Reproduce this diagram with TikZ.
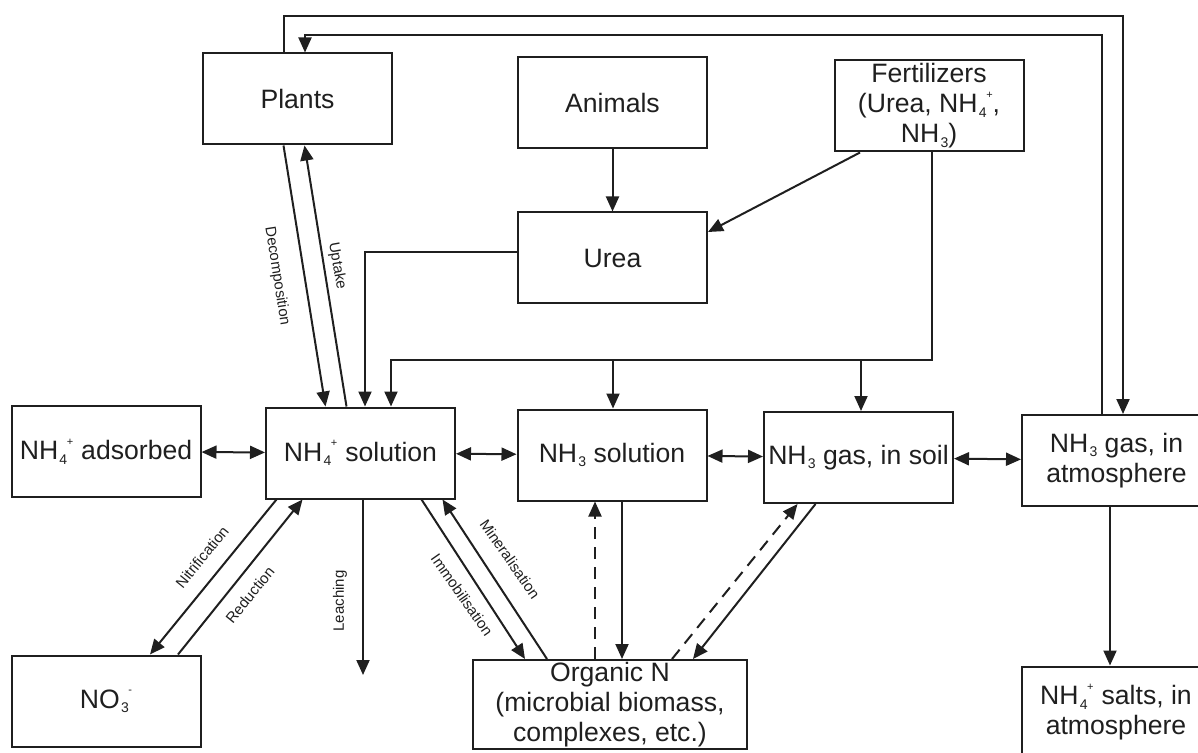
\documentclass[tikz,border=0pt]{standalone}
\usepackage{fontspec}
\setmainfont{Liberation Sans}
\usetikzlibrary{arrows.meta, calc}

\definecolor{ink}{gray}{0.12}

\newcommand{\chsub}[1]{\raisebox{-0.3ex}{\fontsize{7}{7}\selectfont #1}}
\newcommand{\chsup}[1]{\raisebox{1.05ex}{\fontsize{5.5}{5.5}\selectfont #1}}
\newcommand{\ammonium}{NH\kern0.6pt\chsub{4}\kern-0.2pt\chsup{+}}
\newcommand{\ammonia}{NH\kern0.6pt\chsub{3}}
\newcommand{\nitrate}{NO\kern0.6pt\chsub{3}\kern-0.2pt\chsup{-}}

\begin{document}
\begin{tikzpicture}[x=0.5pt, y=-0.5pt,
  box/.style={draw=ink, line width=1pt, minimum width=94.5pt, minimum height=45.5pt,
    inner sep=0.5pt, align=center, text=ink, font=\fontsize{13.3}{15}\selectfont},
  flow/.style={draw=ink, line width=1pt, -{Triangle[length=7.5pt,width=6.5pt]}},
  both/.style={draw=ink, line width=1pt,
    {Triangle[length=7.5pt,width=6.5pt]}-{Triangle[length=7.5pt,width=6.5pt]}},
  dflow/.style={flow, dash pattern=on 6pt off 4pt},
  lab/.style={font=\fontsize{7.5}{8}\selectfont, text=ink, inner sep=0pt}]
  \clip (0,0) rectangle (1198,753);

  \node[box] (plants)  at (297.5,99)   {Plants};
  \node[box] (animals) at (612.5,102.5) {Animals};
  \node[box] (fert)    at (929,106)    {Fertilizers\\(Urea, \ammonium,\\\ammonia)};
  \node[box] (urea)    at (612.5,258)  {Urea};

  \node[box] (ads)     at (106,451.5)  {\ammonium\hspace{0.3em}adsorbed};
  \node[box] (nhsol)   at (360.5,453)  {\ammonium\hspace{0.3em}solution};
  \node[box] (nh3sol)  at (612,455)    {\ammonia\ solution};
  \node[box] (gassoil) at (858.5,457.5) {\ammonia\ gas, in soil};
  \node[box] (atm)     at (1116.5,460.5) {\ammonia\ gas, in\\atmosphere};

  \node[box] (no3)     at (106,701)    {\nitrate};
  \node[box, minimum width=137pt, minimum height=44.5pt, inner sep=0pt] (orgn) at (610,704.5)
    {Organic N\\(microbial biomass,\\complexes, etc.)};
  \node[box] (salts)   at (1116,712)   {\ammonium\hspace{0.3em}salts, in\\atmosphere};

  \coordinate (outerL) at (284,16);
  \coordinate (outerR) at (1123,16);
  \coordinate (innerL) at (305,35);
  \coordinate (innerR) at (1102,35);
  \draw[flow] (plants.north -| outerL) |- (outerR) -- (outerR |- atm.north);
  \draw[flow] (atm.north -| innerR) |- (innerL) -- (innerL |- plants.north);

  \draw[flow] ($(plants.south)+(-14,0)$) -- ($(nhsol.north)+(-35,0)$);
  \draw[flow] ($(nhsol.north)+(-14,0)$) -- ($(plants.south)+(7,0)$);

  \draw[flow] (animals) -- (urea);
  \draw[flow] ($(fert.south)+(-69,0)$) -- ($(urea.east)+(0,-26)$);

  \coordinate (ureaL) at (365,252);
  \draw[flow] (urea.west |- ureaL) -- (ureaL) -- (ureaL |- nhsol.north);

  \coordinate (fertR) at (932,360);
  \coordinate (fertL) at (391,360);
  \coordinate (fertA) at (613,360);
  \coordinate (fertB) at (861,360);
  \draw[flow] (fert.south -| fertR) -- (fertR) -- (fertL) -- (fertL |- nhsol.north);
  \draw[flow] (fertA) -- (fertA |- nh3sol.north);
  \draw[flow] (fertB) -- (fertB |- gassoil.north);

  \draw[both] (ads) -- (nhsol);
  \draw[both] (nhsol) -- (nh3sol);
  \draw[both] (nh3sol) -- (gassoil);
  \draw[both] (gassoil) -- (atm);

  \coordinate (atmS) at (1110,506);
  \draw[flow] (atm.south -| atmS) -- (atmS |- salts.north);

  \draw[flow] ($(nhsol.south)+(-84,0)$) -- ($(no3.north)+(44,0)$);
  \draw[flow] ($(no3.north)+(72,0)$) -- ($(nhsol.south)+(-58,0)$);
  \coordinate (leachEnd) at (363,675);
  \draw[flow] (nhsol.south -| leachEnd) -- (leachEnd);
  \draw[flow] ($(nhsol.south)+(61,0)$) -- ($(orgn.north)+(-85,0)$);
  \draw[flow] ($(orgn.north)+(-63,0)$) -- ($(nhsol.south)+(82,0)$);
  \draw[dflow] ($(orgn.north)+(-15,0)$) -- ($(nh3sol.south)+(-17,0)$);
  \draw[flow] ($(nh3sol.south)+(10,0)$) -- ($(orgn.north)+(12,0)$);
  \draw[dflow] ($(orgn.north)+(62,0)$) -- ($(gassoil.south)+(-61,0)$);
  \draw[flow] ($(gassoil.south)+(-43,0)$) -- ($(orgn.north)+(83,0)$);

  \node[lab, rotate=-81] (decomp) at (277,276) {Decomposition};
  \node[lab, rotate=-80] (uptake) at (337,266) {Uptake};
  \node[lab, rotate=51]  (nitrif) at (202,557) {Nitrification};
  \node[lab, rotate=51]  (reduc)  at (250,595) {Reduction};
  \node[lab, rotate=90]  (leach)  at (340,601) {Leaching};
  \node[lab, rotate=-55] (immob)  at (462,595) {Immobilisation};
  \node[lab, rotate=-55] (miner)  at (510,559) {Mineralisation};
\end{tikzpicture}
\end{document}
